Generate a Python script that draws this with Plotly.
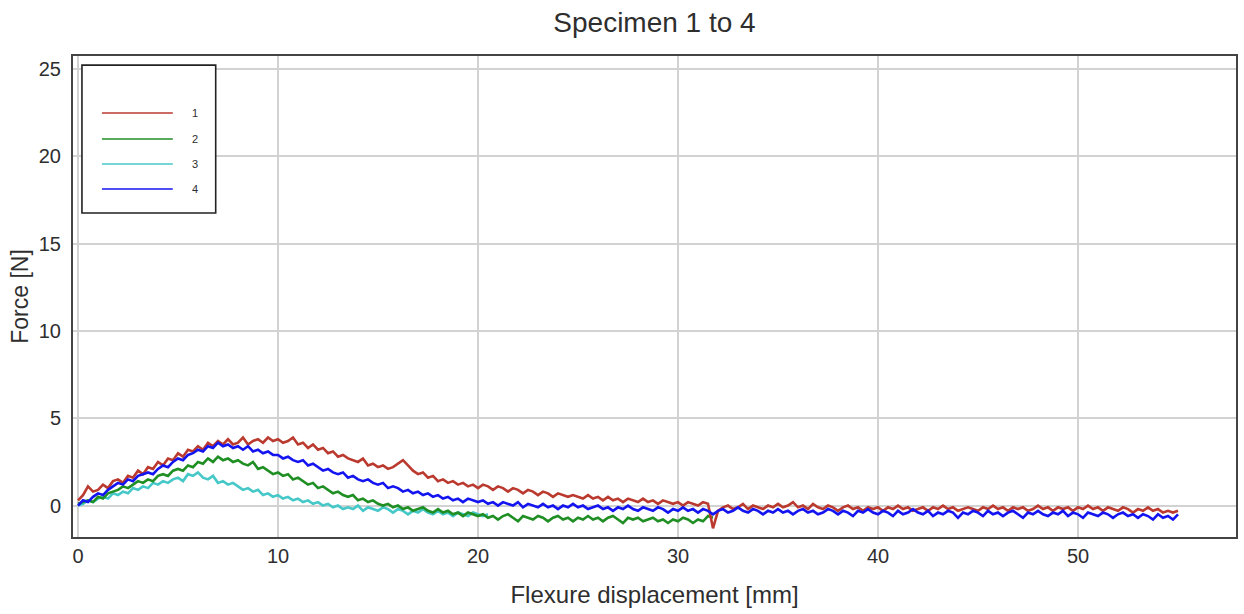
import numpy as np
import plotly.graph_objects as go

# Force readings sampled every 0.25 mm of flexure displacement
STEP_MM = 0.25

force_1 = [
    0.3, 0.6, 1.1, 0.8, 0.9, 1.2, 1.0, 1.4, 1.5, 1.3, 1.7, 1.6, 2.0, 1.8, 2.2, 2.1, 2.5, 2.3, 2.7, 2.6,
    3.0, 2.8, 3.2, 3.1, 3.4, 3.2, 3.6, 3.4, 3.7, 3.5, 3.8, 3.5, 3.6, 3.9, 3.5, 3.7, 3.8, 3.6, 3.9, 3.7,
    3.8, 3.6, 3.7, 3.9, 3.5, 3.6, 3.3, 3.5, 3.2, 3.3, 3.0, 3.1, 2.8, 2.9, 2.7, 2.6, 2.5, 2.7, 2.3, 2.4,
    2.2, 2.3, 2.1, 2.2, 2.4, 2.6, 2.3, 2.0, 1.8, 1.9, 1.6, 1.7, 1.4, 1.5, 1.3, 1.4, 1.2, 1.3, 1.1, 1.2,
    1.0, 1.2, 1.1, 0.9, 1.1, 1.0, 0.8, 1.0, 0.9, 0.7, 0.9, 0.8, 0.6, 0.8, 0.7, 0.5, 0.7, 0.6, 0.5, 0.6,
    0.5, 0.4, 0.6, 0.4, 0.5, 0.3, 0.5, 0.3, 0.4, 0.2, 0.4, 0.3, 0.2, 0.4, 0.2, 0.3, 0.1, 0.3, 0.2, 0.1,
    0.2, 0.0, 0.2, 0.1, 0.0, 0.2, 0.1, -1.3, -0.3, -0.1, 0.0, -0.2, -0.1, 0.1, -0.2, 0.0, -0.1, -0.2, 0.0, -0.1,
    0.1, -0.1, 0.0, 0.2, -0.1, 0.0, -0.2, 0.1, -0.1, -0.2, 0.0, -0.1, -0.3, -0.1, 0.0, -0.2, -0.1, -0.3, -0.1, -0.2,
    -0.1, -0.3, -0.1, -0.2, 0.0, -0.2, -0.1, -0.3, -0.2, -0.1, -0.3, -0.1, -0.2, 0.0, -0.2, -0.1, -0.3, -0.2, -0.1, -0.2,
    -0.3, -0.1, -0.2, 0.0, -0.2, -0.1, -0.3, -0.1, -0.2, -0.1, -0.3, -0.2, 0.0, -0.2, -0.1, -0.3, -0.1, -0.2, -0.1, -0.3,
    -0.1, -0.2, 0.0, -0.2, -0.1, -0.3, -0.1, -0.2, -0.3, -0.1, -0.2, -0.4, -0.2, -0.3, -0.1, -0.3, -0.2, -0.4, -0.3, -0.4, -0.3,
]

force_2 = [
    0.1, 0.2, 0.3, 0.2, 0.5, 0.4, 0.7, 0.8, 0.9, 1.1, 1.0, 1.2, 1.4, 1.3, 1.5, 1.4, 1.7, 1.8, 1.7, 2.0,
    2.1, 2.0, 2.3, 2.2, 2.5, 2.4, 2.7, 2.5, 2.8, 2.6, 2.7, 2.5, 2.6, 2.4, 2.3, 2.5, 2.1, 2.2, 2.0, 1.8,
    1.9, 1.7, 1.8, 1.5, 1.6, 1.4, 1.2, 1.3, 1.0, 1.1, 0.9, 0.7, 0.8, 0.6, 0.5, 0.6, 0.3, 0.4, 0.2, 0.3,
    0.1, 0.0, 0.1, -0.1, 0.0, -0.2, -0.1, -0.3, -0.2, -0.1, -0.3, -0.4, -0.2, -0.4, -0.3, -0.5, -0.4, -0.6, -0.4, -0.5,
    -0.6, -0.5, -0.7, -0.6, -0.8, -0.6, -0.5, -0.7, -0.9, -0.6, -0.7, -0.8, -0.6, -0.7, -0.9, -0.7, -0.6, -0.8, -0.7, -0.9,
    -0.7, -0.8, -0.6, -0.8, -0.7, -0.9, -0.7, -0.6, -0.8, -1.0, -0.7, -0.8, -0.7, -0.9, -0.8, -0.7, -0.9, -0.8, -1.0, -0.8,
    -0.9, -0.7, -0.8, -1.0, -0.8, -0.9, -0.6, -0.7,
]

force_3 = [
    0.0, 0.1, 0.3, 0.2, 0.4, 0.5, 0.4, 0.7, 0.6, 0.8, 0.7, 1.0, 0.9, 1.1, 1.0, 1.3, 1.2, 1.4, 1.3, 1.5,
    1.6, 1.4, 1.8, 1.7, 1.9, 1.6, 1.5, 1.7, 1.3, 1.4, 1.2, 1.3, 1.1, 0.9, 1.0, 0.8, 0.9, 0.6, 0.7, 0.5,
    0.6, 0.4, 0.5, 0.3, 0.4, 0.2, 0.3, 0.1, 0.2, 0.0, 0.1, -0.1, 0.0, -0.2, -0.1, -0.2, 0.0, -0.3, -0.1, -0.2,
    -0.3, -0.1, -0.2, -0.4, -0.2, -0.3, -0.5, -0.3, -0.4, -0.2, -0.4, -0.5, -0.3, -0.5, -0.4, -0.6, -0.4, -0.5, -0.6, -0.4,
    -0.5, -0.6, -0.5,
]

force_4 = [
    0.0, 0.3, 0.2, 0.5, 0.7, 0.6, 0.9, 1.1, 1.3, 1.2, 1.5, 1.4, 1.7, 1.8, 1.9, 1.8, 2.1, 2.3, 2.2, 2.5,
    2.7, 2.6, 2.9, 3.0, 3.2, 3.1, 3.4, 3.3, 3.6, 3.4, 3.5, 3.3, 3.4, 3.2, 3.4, 3.1, 3.2, 3.0, 3.1, 2.9,
    2.9, 2.7, 2.8, 2.6, 2.5, 2.6, 2.3, 2.4, 2.2, 2.0, 2.1, 1.9, 1.8, 1.9, 1.6, 1.7, 1.5, 1.4, 1.5, 1.3,
    1.2, 1.3, 1.0, 1.1, 1.0, 0.8, 0.9, 0.7, 0.8, 0.6, 0.7, 0.5, 0.6, 0.4, 0.5, 0.3, 0.4, 0.2, 0.4, 0.3,
    0.2, 0.3, 0.1, 0.2, 0.0, 0.2, 0.1, 0.0, 0.2, -0.1, 0.1, 0.0, -0.1, 0.1, -0.1, 0.0, -0.2, 0.0, -0.1, 0.1,
    -0.1, 0.0, -0.2, -0.1, 0.0, -0.2, -0.1, -0.3, -0.1, -0.2, 0.0, -0.2, -0.3, -0.1, -0.2, -0.3, -0.1, -0.2, -0.4, -0.2,
    -0.3, -0.1, -0.3, -0.2, -0.4, -0.2, -0.3, -0.5, -0.3, -0.2, -0.4, -0.3, -0.1, -0.3, -0.4, -0.2, -0.3, -0.5, -0.3, -0.4,
    -0.2, -0.4, -0.3, -0.5, -0.3, -0.2, -0.4, -0.3, -0.5, -0.4, -0.2, -0.3, -0.5, -0.3, -0.4, -0.6, -0.3, -0.4, -0.2, -0.4,
    -0.5, -0.3, -0.4, -0.6, -0.3, -0.5, -0.4, -0.2, -0.4, -0.5, -0.3, -0.6, -0.4, -0.5, -0.3, -0.4, -0.7, -0.4, -0.5, -0.3,
    -0.4, -0.6, -0.3, -0.5, -0.4, -0.6, -0.4, -0.3, -0.5, -0.7, -0.4, -0.5, -0.3, -0.5, -0.6, -0.4, -0.5, -0.3, -0.6, -0.4,
    -0.5, -0.7, -0.4, -0.5, -0.6, -0.4, -0.5, -0.7, -0.5, -0.4, -0.6, -0.5, -0.7, -0.5, -0.6, -0.8, -0.5, -0.7, -0.6, -0.8, -0.5,
]

specimens = ["1", "2", "3", "4"]
series = {"1": force_1, "2": force_2, "3": force_3, "4": force_4}
colors = {"1": "#bb3a2f", "2": "#1f8f24", "3": "#46c8c8", "4": "#1414f0"}
draw_order = ["3", "2", "1", "4"]

x_ticks = [0, 10, 20, 30, 40, 50]
y_ticks = [0, 5, 10, 15, 20, 25]

FONT = "Liberation Sans, Arial, sans-serif"
TEXT = "#2e2e2e"

fig = go.Figure()
for name in draw_order:
    y = series[name]
    x = np.arange(len(y)) * STEP_MM
    fig.add_trace(go.Scatter(
        x=x, y=y, mode="lines", name=name, showlegend=False,
        line=dict(color=colors[name], width=2.6),
    ))

# Boxed key in the upper-left corner of the plot
shapes = [dict(type="rect", xref="paper", yref="paper",
               x0=0.0077, x1=0.1227, y0=0.6736, y1=0.981,
               line=dict(color="#222222", width=1.6), fillcolor="white", layer="above")]
annotations = []
key_rows = [0.8815, 0.8274, 0.7755, 0.7235]
for name, ky in zip(specimens, key_rows):
    shapes.append(dict(type="line", xref="paper", yref="paper",
                       x0=0.0249, x1=0.0858, y0=ky, y1=ky,
                       line=dict(color=colors[name], width=1.6), layer="above"))
    annotations.append(dict(xref="paper", yref="paper", x=0.1047, y=ky,
                            text=name, showarrow=False, xanchor="center", yanchor="middle",
                            font=dict(family=FONT, size=11, color=TEXT)))

fig.update_layout(
    width=1244, height=614,
    paper_bgcolor="white", plot_bgcolor="white",
    margin=dict(l=73, r=6, t=56, b=77),
    title=dict(text="Specimen 1 to 4", x=0.5, xref="paper", xanchor="center",
               y=1 - 22 / 614, yref="container", yanchor="middle",
               font=dict(family=FONT, size=28, color=TEXT)),
    font=dict(family=FONT, color=TEXT),
    shapes=shapes,
    annotations=annotations,
    showlegend=False,
)

axis_common = dict(
    showgrid=True, gridcolor="#d2d2d2", gridwidth=1.5,
    showline=True, linecolor="#444444", linewidth=2, mirror=True,
    zeroline=False, ticks="", tickfont=dict(family=FONT, size=20, color=TEXT),
)
fig.update_xaxes(range=[-0.25, 57.9], tickvals=x_ticks, ticklabelstandoff=0,
                 title=dict(text="Flexure displacement [mm]", standoff=20,
                            font=dict(family=FONT, size=24, color=TEXT)),
                 **axis_common)
fig.update_yaxes(range=[-1.8, 25.75], tickvals=y_ticks, ticklabelstandoff=6,
                 title=dict(text="Force [N]", standoff=4,
                            font=dict(family=FONT, size=23, color=TEXT)),
                 **axis_common)

fig.write_html("out.html")
